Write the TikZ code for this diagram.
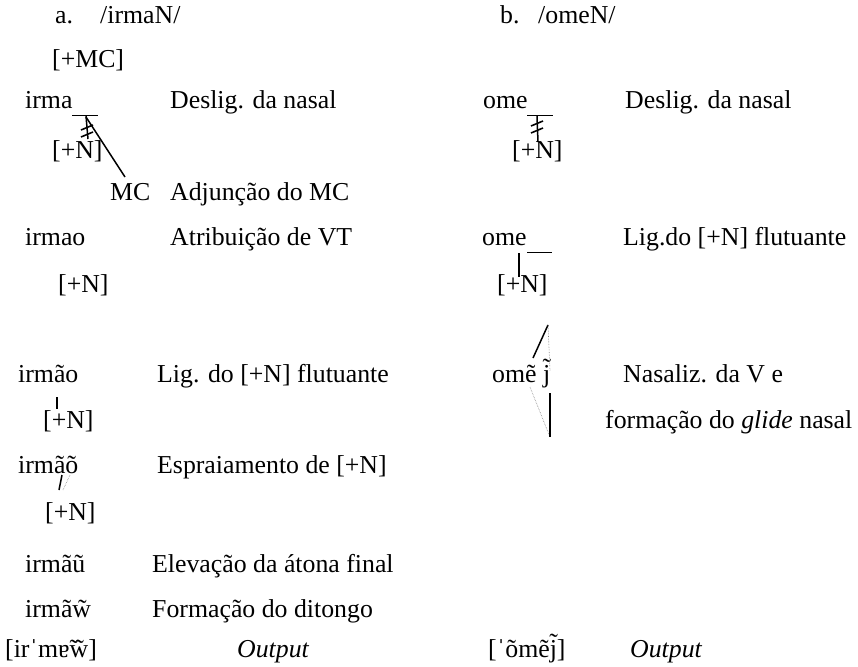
\documentclass[tikz,border=0pt]{standalone}
\usepackage{fontspec}
\setmainfont{Liberation Serif}
\begin{document}
\begin{tikzpicture}[x=1pt,y=-1pt,
  txt/.style={anchor=base west, inner sep=0pt, font=\fontsize{25.8}{30}\selectfont},
  assoc/.style={line width=1.5pt},
  bar/.style={line width=1.6pt},
  uline/.style={line width=0.8pt},
  faint/.style={line width=0.6pt, gray, densely dotted}]
\useasboundingbox (0,0) rectangle (858,666);

% ---------- column a ----------
\node[txt] (a)   at (55,24)  {a.};
\node[txt] (aur) at (100,24) {/irmaN/};
\node[txt] (mc1) at (52,68)  {[+MC]};
\node[txt] (irma) at (25,108) {irma};
\node[txt] (r1)  at (170,108) {Deslig. da nasal};
\node[txt] (n1)  at (52,158) {[+N]};
\node[txt] (mc2) at (110,200) {MC};
\node[txt] (r2)  at (170,200) {Adjunção do MC};
\node[txt] (irmao) at (25,245) {irmao};
\node[txt] (r3)  at (170,245) {Atribuição de VT};
\node[txt] (n2)  at (58,292) {[+N]};
\node[txt] (irmaoB) at (18,382) {irmão};
\node[txt] (r4)  at (157,382) {Lig. do [+N] flutuante};
\node[txt] (n3)  at (43,428) {[+N]};
\node[txt] (irmaoC) at (18,473) {irmãõ};
\node[txt] (r5)  at (157,473) {Espraiamento de [+N]};
\node[txt] (n4)  at (45,520) {[+N]};
\node[txt] (irmau) at (25,572) {irmãũ};
\node[txt] (r6)  at (152,572) {Elevação da átona final};
\node[txt] (irmaw) at (25,617) {irmãw̃};
\node[txt] (r7)  at (152,617) {Formação do ditongo};
\node[txt] (outa) at (5,657) {[irˈmɐ̃w̃]};
\node[txt] (oa)  at (237,657) {\itshape Output};

% ---------- column b ----------
\node[txt] (b)   at (500,24) {b.};
\node[txt] (bur) at (538,24) {/omeN/};
\node[txt] (ome1) at (483,108) {ome};
\node[txt] (rb1) at (625,108) {Deslig. da nasal};
\node[txt] (bn1) at (512,158) {[+N]};
\node[txt] (ome2) at (482,245) {ome};
\node[txt] (rb2) at (623,245) {Lig.do [+N] flutuante};
\node[txt] (bn2) at (497,292) {[+N]};
\node[txt] (omej) at (492,382) {omẽ j̃};
\node[txt] (rb3) at (623,382) {Nasaliz. da V e};
\node[txt] (rb4) at (605,428) {formação do \textit{glide} nasal};
\node[txt] (outb) at (488,657) {[ˈõmẽj̃]};
\node[txt] (ob)  at (630,657) {\itshape Output};

% ---------- connector coordinates ----------
\coordinate (u1a) at (72,115);  \coordinate (u1b) at (98,115);
\coordinate (d1a) at (86,116);  \coordinate (d1b) at (88,139);
\coordinate (m1a) at (86,117);  \coordinate (m1b) at (125,177);
\coordinate (u2a) at (527,115); \coordinate (u2b) at (553,115);
\coordinate (d2a) at (537,116); \coordinate (d2b) at (538,142);
\coordinate (u3a) at (527,252); \coordinate (u3b) at (552,252);
\coordinate (l3a) at (519,253); \coordinate (l3b) at (519,277);
\coordinate (l4a) at (57,397);  \coordinate (l4b) at (57,409);
\coordinate (l5a) at (62,475);  \coordinate (l5b) at (59,490);
\coordinate (l6a) at (70,475);  \coordinate (l6b) at (63,490);
\coordinate (top) at (548,325); \coordinate (bot) at (550,437);
\coordinate (ev)  at (533,358); \coordinate (jt)  at (550,371);
\coordinate (el)  at (530,387); \coordinate (jb)  at (550,393);

% ---------- connectors ----------
\draw[uline] (u1a) -- (u1b);
\draw[assoc] (d1a) -- (d1b);
\draw[bar] (81,130) -- (93,125);
\draw[bar] (81,137) -- (93,132);
\draw[assoc] (m1a) -- (m1b);

\draw[uline] (u2a) -- (u2b);
\draw[assoc] (d2a) -- (d2b);
\draw[bar] (531,126) -- (543,121);
\draw[bar] (531,133) -- (543,128);

\draw[uline] (u3a) -- (u3b);
\draw[assoc] (l3a) -- (l3b);

\draw[assoc] (l4a) -- (l4b);
\draw[assoc] (l5a) -- (l5b);
\draw[faint] (l6a) -- (l6b);

\draw[assoc] (ev) -- (top);
\draw[faint] (top) -- (jt);
\draw[faint] (el) -- (bot);
\draw[assoc] (jb) -- (bot);
\end{tikzpicture}
\end{document}
